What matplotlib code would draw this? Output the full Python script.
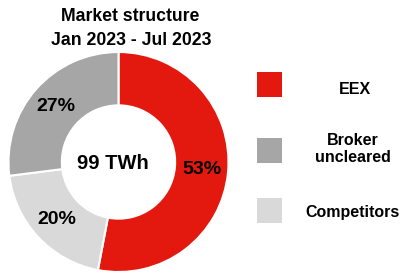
import matplotlib
matplotlib.use('Agg')
import matplotlib.pyplot as plt
from matplotlib.patches import Rectangle

plt.rcParams['font.family'] = ['Liberation Sans', 'DejaVu Sans']
plt.rcParams['font.weight'] = 'bold'

# data, in drawing order (clockwise from 12 o'clock)
segments = ['EEX', 'Competitors', 'Broker\nuncleared']
shares = [53, 20, 27]
colors = ['#E3190F', '#D9D9D9', '#A6A6A6']
total_label = '99 TWh'

# legend order as shown on the right
legend_order = ['EEX', 'Broker\nuncleared', 'Competitors']

W, H = 403, 275
fig = plt.figure(figsize=(W / 100, H / 100), dpi=100)

# donut centred at (118.5, 162) px with radius 110 px
cx, cy, r = 118.5, 162, 110
ax = fig.add_axes([(cx - r) / W, (H - cy - r) / H, 2 * r / W, 2 * r / H])
wedges, texts, autotexts = ax.pie(
    shares, colors=colors, startangle=90, counterclock=False,
    autopct=lambda p: f'{round(p):d}%', pctdistance=0.765, radius=1.0,
    wedgeprops=dict(width=0.485, edgecolor='white', linewidth=1.5),
    textprops=dict(fontsize=14, fontweight='bold', color='black'))
ax.set_xlim(-1, 1)
ax.set_ylim(-1, 1)
ax.text(-0.05, -0.01, total_label, ha='center', va='center',
        fontsize=14.5, fontweight='bold')

# title
fig.text(130 / W, 1 - 21 / H, 'Market structure', ha='center', va='baseline',
         fontsize=12.7, fontweight='bold')
fig.text(131 / W, 1 - 45 / H, 'Jan 2023 - Jul 2023', ha='center', va='baseline',
         fontsize=12.7, fontweight='bold')

# hand-made legend: square swatch + centred label
patch_y = [84.5, 150.5, 210.5]
text_y = [89, 149, 213]
text_x = [355, 353, 353]
for i, name in enumerate(legend_order):
    c = colors[segments.index(name)]
    s = 25
    fig.add_artist(Rectangle(((269 - s / 2) / W, 1 - (patch_y[i] + s / 2) / H),
                             s / W, s / H, transform=fig.transFigure,
                             facecolor=c, edgecolor='none'))
    fig.text(text_x[i] / W, 1 - text_y[i] / H, name, ha='center', va='center',
             multialignment='center', fontsize=11.5, fontweight='bold',
             linespacing=1.2)

fig.savefig('out.png', dpi=100)
